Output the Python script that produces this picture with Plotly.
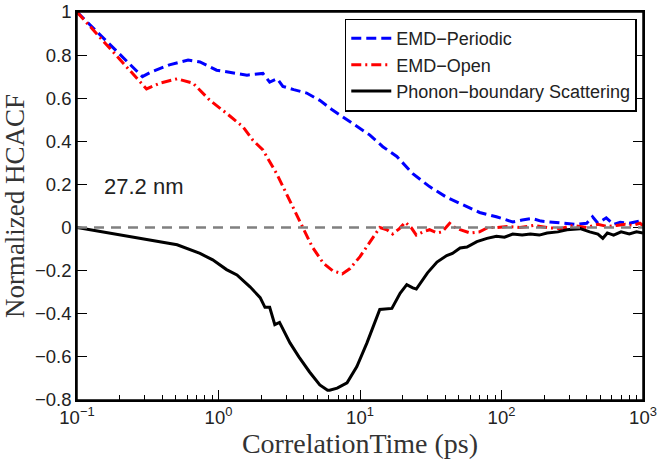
import plotly.graph_objects as go
import math

# ---- data ----
per_t = [0.1, 0.29, 0.33, 0.45, 0.61, 0.74, 0.97, 1.27, 1.59, 2.06, 2.3, 2.6, 2.85, 3.4, 4.2, 5.2, 6.4,
         8.1, 10.0, 11.7, 14.5, 18.2, 23.6, 31, 41, 53, 70, 92, 120, 140, 165, 190, 220, 270, 330,
         400, 440, 480, 550, 620, 690, 800, 950, 1000]
per_v = [1.0, 0.70, 0.72, 0.755, 0.777, 0.768, 0.73, 0.717, 0.707, 0.715, 0.675, 0.69, 0.655, 0.64, 0.624, 0.59, 0.545,
         0.50, 0.46, 0.43, 0.375, 0.33, 0.25, 0.19, 0.14, 0.105, 0.07, 0.05, 0.026, 0.035, 0.042, 0.03, 0.026, 0.02, 0.015,
         0.02, 0.05, 0.02, 0.045, 0.015, 0.025, 0.02, 0.03, 0.025]

open_t = [0.1, 0.31, 0.385, 0.51, 0.66, 0.87, 1.14, 1.49, 1.75, 2.06, 2.6, 3.0, 3.6, 3.95, 4.6, 5.5, 6.4, 7.5,
          8.5, 10.0, 11.7, 13.8, 15.5, 17.0, 19.0, 20.9, 23.0, 25, 28, 31, 35, 38, 43, 47, 51, 60, 70, 80, 92,
          110, 135, 170, 210, 260, 320, 400, 480, 560, 650, 750, 850, 950, 1000]
open_v = [1.0, 0.643, 0.67, 0.69, 0.67, 0.59, 0.53, 0.467, 0.405, 0.36, 0.245, 0.16, 0.05, 0.0, -0.09, -0.165, -0.20, -0.215,
          -0.19, -0.135, -0.07, 0.0, -0.01, -0.03, -0.005, 0.025, 0.0, -0.035, -0.02, -0.01, -0.025, -0.02, 0.02, 0.0, -0.01, -0.025, -0.02, 0.0, 0.0,
          0.005, 0.0, 0.01, 0.0, -0.005, 0.01, 0.0, 0.015, 0.005, 0.01, 0.015, 0.01, 0.02, 0.01]

pbs_t = [0.1, 0.51, 0.74, 0.91, 1.14, 1.35, 1.67, 1.97, 2.13, 2.3, 2.5, 2.7, 3.2, 3.7, 4.4, 5.2, 5.9, 6.1, 6.9,
         8.1, 9.5, 11.2, 13.8, 15.5, 16.8, 19.2, 21.4, 23.6, 25, 30, 35, 41, 45, 51, 57, 67, 79, 92, 105,
         120, 140, 160, 185, 210, 250, 290, 360, 420, 480, 520, 560, 620, 700, 800, 900, 1000]
pbs_v = [0.0, -0.08, -0.12, -0.15, -0.195, -0.22, -0.275, -0.325, -0.37, -0.37, -0.45, -0.44, -0.535, -0.60, -0.67, -0.73, -0.755, -0.755, -0.745,
         -0.72, -0.645, -0.535, -0.38, -0.375, -0.375, -0.305, -0.265, -0.28, -0.285, -0.21, -0.16, -0.13, -0.12, -0.095, -0.09, -0.065, -0.05, -0.04, -0.045,
         -0.03, -0.035, -0.03, -0.035, -0.025, -0.02, -0.01, -0.005, -0.02, -0.03, -0.05, -0.025, -0.035, -0.02, -0.03, -0.02, -0.025]

x_ticks = [0.1, 1, 10, 100, 1000]
x_ticktext = ["10<sup>−1</sup>", "10<sup>0</sup>", "10<sup>1</sup>", "10<sup>2</sup>", "10<sup>3</sup>"]
x_minor = [m * d for d in (0.1, 1, 10, 100) for m in range(2, 10)]
y_ticks = [-0.8, -0.6, -0.4, -0.2, 0, 0.2, 0.4, 0.6, 0.8, 1]
y_ticktext = ["−0.8", "−0.6", "−0.4", "−0.2", "0", "0.2", "0.4", "0.6", "0.8", "1"]

fig = go.Figure()
fig.add_trace(go.Scatter(x=per_t, y=per_v, mode="lines", name="EMD−Periodic",
                         line=dict(color="#0000ff", width=3, dash="10px,5px")))
fig.add_trace(go.Scatter(x=open_t, y=open_v, mode="lines", name="EMD−Open",
                         line=dict(color="#ff0000", width=3, dash="10px,4px,2px,4px")))
fig.add_trace(go.Scatter(x=pbs_t, y=pbs_v, mode="lines", name="Phonon−boundary Scattering",
                         line=dict(color="#000000", width=3)))

fig.add_shape(type="line", xref="x domain", yref="y", x0=0, x1=1, y0=0, y1=0,
              line=dict(color="#808080", width=2.5, dash="10px,7px"))
# axes frame
fig.add_shape(type="rect", xref="paper", yref="paper", x0=0, x1=1, y0=0, y1=1,
              line=dict(color="black", width=1.5), layer="above")

fig.add_annotation(x=math.log10(0.15), y=0.19, xref="x", yref="y", text="27.2 nm",
                   showarrow=False, xanchor="left", yanchor="middle",
                   font=dict(family="Liberation Sans", size=22, color="#222"))

tick_style = dict(ticks="inside", ticklen=10, tickwidth=1.2, tickcolor="black")
minor_style = dict(tickmode="array", tickvals=x_minor, ticks="inside", ticklen=5,
                   tickwidth=1.2, tickcolor="black", showgrid=False)

fig.update_layout(
    width=659, height=464,
    margin=dict(l=77, r=16, t=12, b=64),
    paper_bgcolor="white", plot_bgcolor="white",
    showlegend=True,
    legend=dict(x=0.989, y=0.983, xanchor="right", yanchor="top",
                bgcolor="white", bordercolor="black", borderwidth=1.5,
                font=dict(family="Liberation Sans", size=18, color="#222"),
                tracegroupgap=0, itemwidth=40),
    font=dict(family="Liberation Sans", color="#222"),
    xaxis2=dict(type="log", range=[-1, 3], overlaying="x", side="top", anchor="y",
                tickvals=x_ticks, showticklabels=False, minor=minor_style,
                showline=True, linecolor="black", linewidth=1.5,
                showgrid=False, zeroline=False, automargin=False, **tick_style),
)
fig.update_xaxes(selector=dict(anchor="y", overlaying=None))
fig.layout.xaxis.update(type="log", range=[-1, 3], tickvals=x_ticks, ticktext=x_ticktext,
                        minor=minor_style,
                        showline=True, linecolor="black", linewidth=1.5, mirror=True,
                        showgrid=False, zeroline=False, automargin=False, ticklabeloverflow="allow",
                        tickfont=dict(family="Liberation Sans", size=18.5, color="#222"),
                        title=dict(text="CorrelationTime (ps)", standoff=3,
                                   font=dict(family="Liberation Serif", size=28, color="#333")),
                        **tick_style)
fig.layout.yaxis.update(range=[-0.8, 1], tickvals=y_ticks, ticktext=y_ticktext,
                        showline=True, linecolor="black", linewidth=1.5, mirror="ticks",
                        showgrid=False, zeroline=False, automargin=False, ticklabeloverflow="allow",
                        tickfont=dict(family="Liberation Sans", size=18.5, color="#222"),
                        title=dict(text="Normalized HCACF", standoff=5,
                                   font=dict(family="Liberation Serif", size=27, color="#333")),
                        **tick_style)

fig.write_html("out.html", config={"displayModeBar": False},
               post_script="document.body.style.margin='0';")
